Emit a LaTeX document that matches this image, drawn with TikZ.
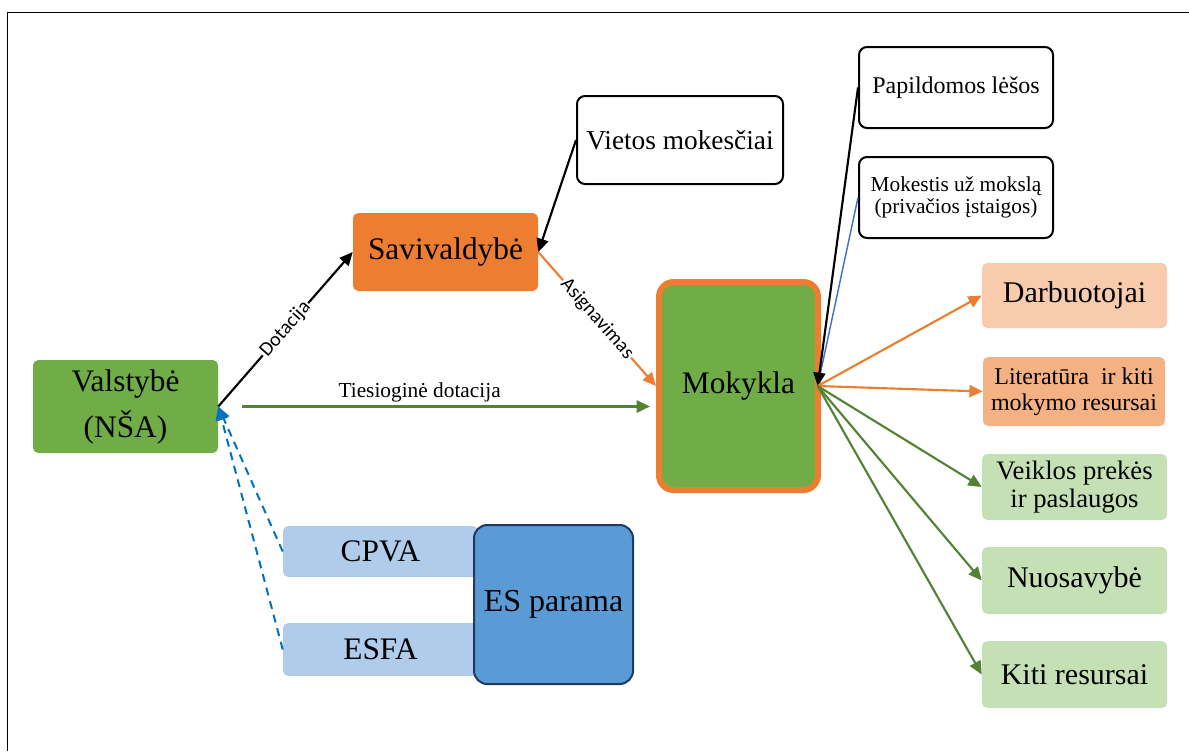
\documentclass[tikz,border=0pt]{standalone}
\usepackage{fontspec}
\setmainfont{Liberation Serif}
\newfontfamily\lblfont{Carlito}
\usetikzlibrary{arrows.meta}

\definecolor{grn}{HTML}{70AD47}
\definecolor{dgrn}{HTML}{548235}
\definecolor{lgrn}{HTML}{C5E0B4}
\definecolor{orng}{HTML}{ED7D31}
\definecolor{lorng}{HTML}{F8CBAD}
\definecolor{morng}{HTML}{F4B183}
\definecolor{lblue}{HTML}{AFCCEA}
\definecolor{mblue}{HTML}{5B9BD5}
\definecolor{navy}{HTML}{203864}
\definecolor{dblue}{HTML}{0070C0}
\definecolor{tblue}{HTML}{4472C4}

\begin{document}
\begin{tikzpicture}[x=0.75pt,y=-0.75pt,
  box/.style={rounded corners=4pt, inner sep=0pt, align=center, minimum width=138.75pt,
    font=\fontsize{23.5}{34.5}\selectfont},
  wbox/.style={draw, line width=1.5pt, rounded corners=6pt, fill=white, inner sep=0pt,
    align=center, minimum width=145.5pt, minimum height=60.75pt},
  flow/.style={-{Triangle[length=10pt,width=9pt]}, line width=1.6pt},
  lbl/.style={font=\lblfont\fontsize{15}{15}\selectfont, fill=white, inner sep=1pt, sloped}]
\useasboundingbox (0,0) rectangle (1189,751);
\draw[line width=1pt] (7.5,751) -- (7.5,12.5) -- (1189,12.5);

% left part: state, municipality, EU support
\node[box, fill=grn, minimum height=69.75pt] (val) at (125.5,406.5) {Valstybė\\(NŠA)};
\node[box, fill=orng, minimum height=58.5pt] (sav) at (445.5,252) {Savivaldybė};
\node[wbox, minimum width=154.5pt, minimum height=66pt, font=\fontsize{20.5}{24}\selectfont]
  (viet) at (680,140) {Vietos mokesčiai};
\node[box, fill=lblue, minimum width=146.25pt, minimum height=38.25pt] (cpva) at (380.5,551.5) {CPVA};
\node[box, fill=lblue, minimum width=146.25pt, minimum height=39.75pt] (esfa) at (380.5,649.5) {ESFA};
\node[box, fill=mblue, draw=navy, line width=1.5pt, rounded corners=10pt, minimum width=119.25pt,
  minimum height=119.25pt, font=\fontsize{24}{28}\selectfont] (es) at (553.5,604.5) {ES parama};

% school and its sources
\node[box, fill=grn, draw=orng, line width=4.5pt, rounded corners=11pt, minimum width=119.25pt,
  minimum height=156pt] (mok) at (738.5,386) {Mokykla};
\node[wbox, font=\fontsize{18}{21}\selectfont] (papl) at (956,87.5) {Papildomos lėšos};
\node[wbox, font=\fontsize{16}{16.5}\selectfont] (mokest) at (956,197.5) {Mokestis už mokslą\\(privačios įstaigos)};

% spending
\node[box, fill=lorng, minimum height=48.75pt, font=\fontsize{22.5}{27}\selectfont] (darb) at (1074.5,295.5) {Darbuotojai};
\node[box, fill=morng, minimum width=136.5pt, minimum height=51.75pt, font=\fontsize{18}{19.5}\selectfont]
  (lit) at (1074,391.5) {Literatūra~ ir kiti\\mokymo resursai};
\node[box, fill=lgrn, minimum height=49.5pt, font=\fontsize{20}{21}\selectfont] (veik) at (1074.5,487) {Veiklos prekės\\ir paslaugos};
\node[box, fill=lgrn, minimum height=50.25pt, font=\fontsize{22.5}{27}\selectfont] (nuos) at (1074.5,580.5) {Nuosavybė};
\node[box, fill=lgrn, minimum height=50.25pt, font=\fontsize{22.5}{27}\selectfont] (kiti) at (1074.5,674.5) {Kiti resursai};

\coordinate (hub) at ([xshift=-2.5pt]mok.east);

\draw[flow] (val.east) -- node[lbl]{Dotacija} (sav.west);
\draw[flow] (viet.west) -- (sav.east);
\draw[flow, orng] (sav.east) -- node[lbl, text=black]{Asignavimas} (mok.west);
\draw[flow, dgrn, line width=2pt, shorten <=18pt, shorten >=4.5pt] (val.east) --
  node[above, pos=0.46, font=\fontsize{16}{19}\selectfont, text=black, inner sep=2pt]{Tiesioginė dotacija} (val.east -| mok.west);
\foreach \src in {cpva,esfa}
  \draw[flow, dblue, line width=1.5pt, dash pattern=on 6pt off 4.5pt] (\src.west) -- (val.east);

\draw[tblue, line width=1.1pt] (mokest.west) -- (hub);
\draw[flow] (papl.west) -- (hub);
\foreach \t in {darb,lit} \draw[flow, orng] (hub) -- (\t.west);
\foreach \t in {veik,nuos,kiti} \draw[flow, dgrn] (hub) -- (\t.west);
\end{tikzpicture}
\end{document}
